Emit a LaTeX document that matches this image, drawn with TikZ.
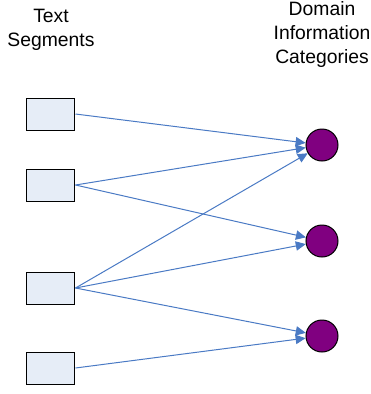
\documentclass[tikz,border=0pt]{standalone}
\usepackage{fontspec}
\setmainfont{Liberation Sans}
\usetikzlibrary{arrows.meta}
\definecolor{segfill}{RGB}{230,237,247}
\definecolor{linkblue}{RGB}{74,122,196}
\definecolor{catfill}{RGB}{128,0,128}
\begin{document}
\begin{tikzpicture}[x=0.75pt, y=-0.75pt]
\useasboundingbox (0,0) rectangle (371,394);
\foreach \i/\y in {1/114, 2/185, 3/288, 4/368} {
    \node[draw, line width=0.75pt, fill=segfill, minimum width=36pt, minimum height=24pt, inner sep=0pt] (s\i) at (51,\y) {};
}
\foreach \i/\y in {1/145, 2/241, 3/336} {
    \node[circle, draw, line width=0.75pt, fill=catfill, minimum size=24pt, inner sep=0pt] (c\i) at (322,\y) {};
}
\tikzset{link/.style={-{Triangle[length=7.5pt, width=7pt]}, line width=0.75pt, linkblue}}
\draw[link] (s1.east) -- (c1);
\draw[link] (s2.east) -- (c1);
\draw[link] (s2.east) -- (c2);
\draw[link] (s3.east) -- (c1);
\draw[link] (s3.east) -- (c2);
\draw[link] (s3.east) -- (c3);
\draw[link] (s4.east) -- (c3);
\node[align=center, font=\fontsize{14.5}{18}\selectfont] (segtitle) at (51,30) {Text\\Segments};
\node[align=center, font=\fontsize{14.5}{18}\selectfont] (cattitle) at (322,34) {Domain\\Information\\Categories};
\end{tikzpicture}
\end{document}
